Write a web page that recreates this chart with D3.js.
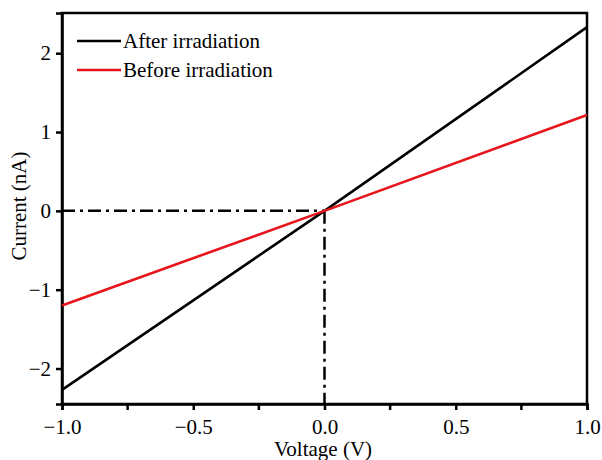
<!DOCTYPE html>
<html><head><meta charset="utf-8">
<script src="https://cdn.jsdelivr.net/npm/d3@7"></script>
<style>body{margin:0;background:#fff}svg{display:block}text{font-family:"Liberation Serif","Times New Roman",serif;fill:#000}</style>
</head><body>
<script>
const voltage = [-1.0, 0.0, 1.0];
const afterIrr = [-2.27, 0.0, 2.33];
const beforeIrr = [-1.20, 0.0, 1.215];
const seriesNames = ["After irradiation", "Before irradiation"];
const seriesColors = ["#000000", "#e8141c"];
const xTicks = [-1.0, -0.5, 0.0, 0.5, 1.0];
const xMinorTicks = [-0.75, -0.25, 0.25, 0.75];
const yTicks = [-2, -1, 0, 1, 2];

const W = 602, H = 460;
const svg = d3.select("body").append("svg").attr("width", W).attr("height", H);
const x = d3.scaleLinear().domain([-1, 1]).range([62, 587]);
const y = d3.scaleLinear().domain([-2.45, 2.51]).range([404, 13]);

const fmtX = d => d3.format(".1f")(d).replace("-", "\u2212");
const fmtY = d => String(d).replace("-", "\u2212");

// frame
svg.append("rect").attr("x", x(-1)).attr("y", y(2.51)).attr("width", x(1) - x(-1)).attr("height", y(-2.45) - y(2.51))
  .attr("fill", "none").attr("stroke", "#000").attr("stroke-width", 2.5);

// x axis
const xa = svg.append("g").attr("transform", `translate(0,${y(-2.45)})`)
  .call(d3.axisBottom(x).tickValues(xTicks).tickFormat(fmtX).tickSize(6).tickPadding(9));
xa.append("g").selectAll("line").data(xMinorTicks).join("line")
  .attr("x1", d => x(d)).attr("x2", d => x(d)).attr("y1", 0).attr("y2", 6).attr("stroke", "#000").attr("stroke-width", 2.5);
// y axis
const ya = svg.append("g").attr("transform", `translate(${x(-1)},0)`)
  .call(d3.axisLeft(y).tickValues(yTicks).tickFormat(fmtY).tickSize(6).tickPadding(5));
[xa, ya].forEach(a => {
  a.select(".domain").attr("stroke-width", 2.5);
  a.selectAll(".tick line").attr("stroke-width", 2.5);
  a.selectAll("text").attr("font-size", 21).attr("font-family", '"Liberation Serif",serif');
});

// reference dash-dot lines
svg.append("line").attr("x1", x(-1)).attr("x2", x(0)).attr("y1", y(0)).attr("y2", y(0))
  .attr("stroke", "#000").attr("stroke-width", 2.5).attr("stroke-dasharray", "13,5,3,5");
svg.append("line").attr("x1", x(0)).attr("x2", x(0)).attr("y1", y(0)).attr("y2", y(-2.45))
  .attr("stroke", "#000").attr("stroke-width", 2.5).attr("stroke-dasharray", "13,5,3,5");

// data lines
const line = d3.line().x((d, i) => x(voltage[i])).y(d => y(d));
[afterIrr, beforeIrr].forEach((s, k) => {
  svg.append("path").datum(s).attr("d", line).attr("fill", "none")
    .attr("stroke", seriesColors[k]).attr("stroke-width", 2.6);
});

// legend
seriesNames.forEach((n, k) => {
  const ly = 41 + k * 29;
  svg.append("line").attr("x1", 77).attr("x2", 121).attr("y1", ly).attr("y2", ly)
    .attr("stroke", seriesColors[k]).attr("stroke-width", 2.6);
  svg.append("text").attr("x", 123).attr("y", ly + 7).attr("font-size", 21).text(n);
});

// axis titles
svg.append("text").attr("x", 323).attr("y", 456).attr("text-anchor", "middle").attr("font-size", 21).text("Voltage (V)");
svg.append("text").attr("transform", `translate(26,${206}) rotate(-90)`).attr("text-anchor", "middle").attr("font-size", 21).text("Current (nA)");
</script>
</body></html>
